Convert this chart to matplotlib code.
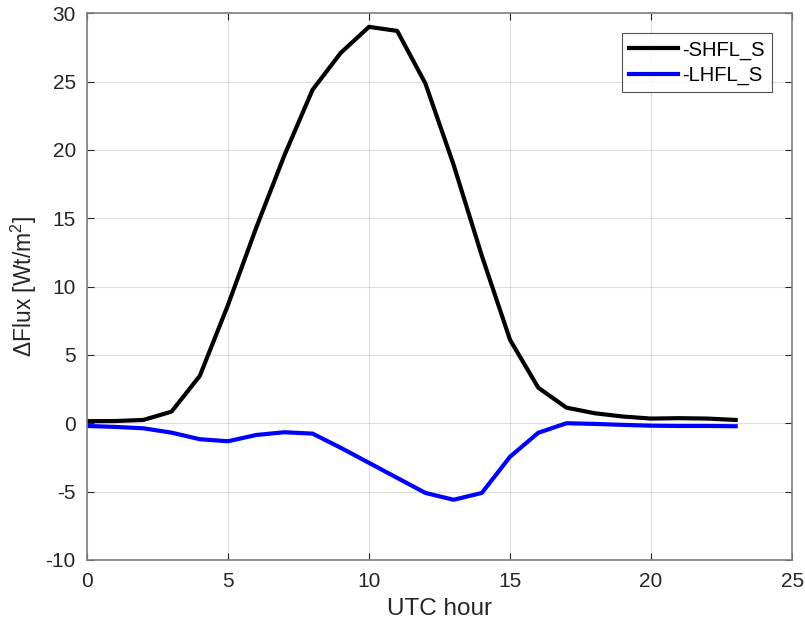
import matplotlib
matplotlib.use("Agg")
import matplotlib.pyplot as plt
import numpy as np

hours = list(range(24))
shfl = [0.15, 0.16, 0.24, 0.85, 3.46, 8.65, 14.3, 19.6, 24.4, 27.1, 29.0, 28.7,
        24.85, 18.9, 12.25, 6.1, 2.6, 1.14, 0.73, 0.49, 0.34, 0.37, 0.34, 0.24]
lhfl = [-0.2, -0.27, -0.37, -0.69, -1.17, -1.32, -0.86, -0.66, -0.76, -1.8, -2.9, -4.0,
        -5.1, -5.6, -5.1, -2.45, -0.7, 0.0, -0.05, -0.12, -0.18, -0.2, -0.2, -0.22]
series_labels = ["-SHFL_S", "-LHFL_S"]
xticks = [0, 5, 10, 15, 20, 25]
yticks = [-10, -5, 0, 5, 10, 15, 20, 25, 30]

plt.rcParams['font.family'] = ['Liberation Sans', 'DejaVu Sans']
plt.rcParams['axes.unicode_minus'] = False
plt.rcParams['mathtext.fontset'] = 'custom'
plt.rcParams['mathtext.rm'] = 'Liberation Sans'
plt.rcParams['mathtext.it'] = 'Liberation Sans'

fig = plt.figure(figsize=(8.05, 6.27), dpi=100)
ax = fig.add_axes([0.108, 0.107, 0.876, 0.872])

ax.plot(hours, shfl, color='black', lw=3, label=series_labels[0])
ax.plot(hours, lhfl, color='#0000ff', lw=3, label=series_labels[1])

ax.set_xlim(0, 25)
ax.set_ylim(-10, 30)
ax.set_xticks(xticks)
ax.set_yticks(yticks)
ax.grid(True, color='#262626', alpha=0.15, lw=0.8)
ax.set_axisbelow(True)
ax.tick_params(direction='in', top=True, right=True, length=5, width=0.8,
               colors='#262626', labelsize=15)
ax.tick_params(axis='x', pad=9)
ax.tick_params(axis='y', pad=8)
for sp in ax.spines.values():
    sp.set_color('#808080')
    sp.set_linewidth(1.2)

ax.set_xlabel('UTC hour', fontsize=17.5, color='#262626', labelpad=5)
ax.set_ylabel('\u0394Flux [Wt/m$^2$]', fontsize=16.5, color='#262626', labelpad=5)

leg = ax.legend(loc='upper right', fontsize=14.5, frameon=True, fancybox=False,
                edgecolor='#262626', handlelength=2.45, handletextpad=0.2,
                borderpad=0.35, labelspacing=0.3, borderaxespad=1.0)
leg.get_frame().set_linewidth(0.8)

fig.savefig('out.png', dpi=100)
